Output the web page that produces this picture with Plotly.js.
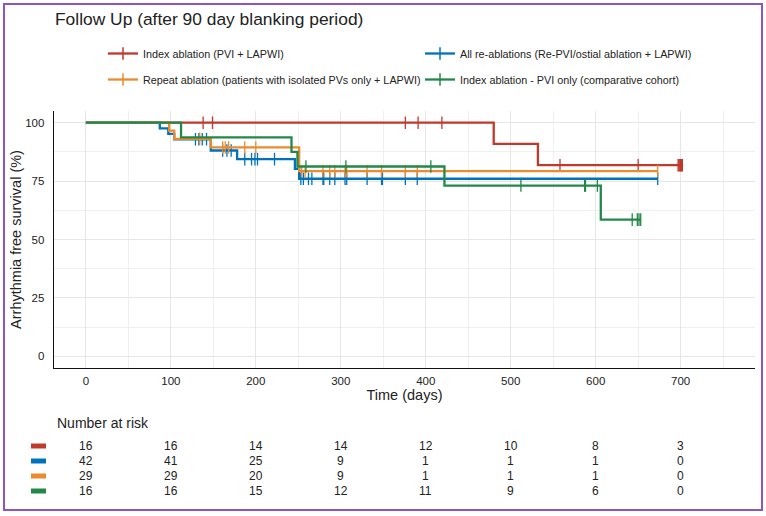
<!DOCTYPE html>
<html>
<head>
<meta charset="utf-8">
<script src="https://cdn.plot.ly/plotly-3.0.1.min.js"></script>
<style>
  html, body { margin: 0; padding: 0; background: #ffffff; }
  #chart { width: 766px; height: 516px; }
</style>
</head>
<body>
<div id="chart"></div>
<script>
// ---------- DATA ----------
const seriesNames = [
  "Index ablation (PVI + LAPWI)",
  "All re-ablations (Re-PVI/ostial ablation + LAPWI)",
  "Repeat ablation (patients with isolated PVs only + LAPWI)",
  "Index ablation - PVI only (comparative cohort)"
];

// Kaplan-Meier step points (time in days, survival in %)
const redTimes    = [0, 480, 532, 702];
const redSurv     = [100, 90.9, 81.8, 81.8];
const redCensor   = [138, 149, 376, 391, 419, 558, 650, 697, 698, 699, 700, 701, 702];

const blueTimes   = [0, 87, 97, 104, 147, 178, 246, 251, 673];
const blueSurv    = [100, 97.6, 95.2, 92.9, 88.1, 84.4, 80.2, 76.0, 76.0];
const blueCensor  = [129, 133, 137, 142, 161, 166, 171, 187, 195, 199, 202, 222,
                     253, 256, 262, 266, 279, 280, 287, 293, 305, 307, 331, 348, 349, 376, 390, 673];

const orangeTimes  = [0, 98, 104, 147, 251, 673];
const orangeSurv   = [100, 96.6, 93.1, 89.4, 79.3, 79.3];
const orangeCensor = [134, 161, 164, 168, 187, 200, 254, 258, 279, 287, 293, 305, 307, 331, 348, 376, 390, 673];

const greenTimes   = [0, 112, 242, 249, 422, 606, 653];
const greenSurv    = [100, 93.75, 87.5, 81.25, 73.1, 58.5, 58.5];
const greenCensor  = [259, 306, 406, 512, 587, 588, 602, 643, 649, 651, 653];

// Number at risk table
const riskTimes  = [0, 100, 200, 300, 400, 500, 600, 700];
const riskRed    = [16, 16, 14, 14, 12, 10, 8, 3];
const riskBlue   = [42, 41, 25, 9, 1, 1, 1, 0];
const riskOrange = [29, 29, 20, 9, 1, 1, 1, 0];
const riskGreen  = [16, 16, 15, 12, 11, 9, 6, 0];

const xTickVals = [0, 100, 200, 300, 400, 500, 600, 700];
const yTickVals = [0, 25, 50, 75, 100];

// ---------- STYLE ----------
const colors = { red: "#C0392B", blue: "#0072BD", orange: "#EC8A2E", green: "#22884A" };
const FONT = "'Liberation Sans', Arial, Helvetica, sans-serif";

// Plot area in pixels (for paper coordinates of outside elements)
const W = 766, H = 516;
const M = { l: 54, r: 11, t: 111, b: 148 };
const PW = W - M.l - M.r, PH = H - M.t - M.b;
const px = (x) => (x - M.l) / PW;
const py = (y) => (H - M.b - y) / PH;

// step-function lookup for censor marks
function stepValue(times, surv, t) {
  let v = surv[0];
  for (let i = 0; i < times.length; i++) { if (times[i] <= t) v = surv[i]; }
  return v;
}

const groups = [
  { name: seriesNames[0], times: redTimes, surv: redSurv, cens: redCensor, color: colors.red, legend: "legend", risk: riskRed },
  { name: seriesNames[1], times: blueTimes, surv: blueSurv, cens: blueCensor, color: colors.blue, legend: "legend2", risk: riskBlue },
  { name: seriesNames[2], times: orangeTimes, surv: orangeSurv, cens: orangeCensor, color: colors.orange, legend: "legend", risk: riskOrange },
  { name: seriesNames[3], times: greenTimes, surv: greenSurv, cens: greenCensor, color: colors.green, legend: "legend2", risk: riskGreen }
];

const traces = [];
groups.forEach((g, i) => {
  traces.push({
    type: "scatter", mode: "lines", x: g.times, y: g.surv,
    line: { shape: "hv", color: g.color, width: 2.3 },
    showlegend: false, hoverinfo: "skip"
  });
  traces.push({
    type: "scatter", mode: "markers", x: g.cens,
    y: g.cens.map(t => stepValue(g.times, g.surv, t)),
    marker: { symbol: "line-ns", size: 9, color: g.color, line: { color: g.color, width: 1.3 } },
    showlegend: false, hoverinfo: "skip"
  });
});
// legend entries (line with a + mark)
groups.forEach((g, i) => {
  traces.push({
    type: "scatter", mode: "lines+markers", x: [null], y: [null],
    name: g.name, legend: g.legend, legendgroup: "g" + i,
    line: { color: g.color, width: 2.3 },
    marker: { symbol: "line-ns", size: 9, color: g.color, line: { color: g.color, width: 1.5 } }
  });
});

// risk table annotations and swatches
const annotations = [];
const shapes = [];
const rowY = [446, 461, 476, 491];
groups.forEach((g, r) => {
  riskTimes.forEach((t, i) => {
    annotations.push({
      x: t, xref: "x", y: py(rowY[r]), yref: "paper",
      text: String(g.risk[i]), showarrow: false,
      xanchor: "center", yanchor: "middle",
      font: { family: FONT, size: 12, color: "#222" }
    });
  });
  shapes.push({
    type: "rect", xref: "paper", yref: "paper",
    x0: px(31), x1: px(46), y0: py(rowY[r] - 2.5), y1: py(rowY[r] + 2.5),
    fillcolor: g.color, line: { width: 0 }
  });
});
annotations.push({
  x: px(55), xref: "paper", y: py(423), yref: "paper",
  text: "Number at risk", showarrow: false, xanchor: "left", yanchor: "middle",
  font: { family: FONT, size: 14, color: "#222" }
});
// outer frame
shapes.push({
  type: "rect", xref: "paper", yref: "paper",
  x0: px(4), x1: px(762), y0: py(510), y1: py(4),
  line: { color: "#8A55C8", width: 2 }, fillcolor: "rgba(0,0,0,0)"
});

const layout = {
  width: W, height: H,
  margin: M,
  paper_bgcolor: "#ffffff", plot_bgcolor: "#ffffff",
  font: { family: FONT, size: 12, color: "#222" },
  title: {
    text: "Follow Up (after 90 day blanking period)",
    x: 55 / W, xanchor: "left", xref: "container",
    y: 1 - 19 / H, yanchor: "middle", yref: "container",
    font: { family: FONT, size: 17.4, color: "#222" }
  },
  xaxis: {
    range: [-37.5, 787.5], tickvals: xTickVals, ticks: "",
    showline: true, linecolor: "#111", linewidth: 1.3,
    showgrid: true, gridcolor: "#e6e6e6", gridwidth: 1,
    minor: { dtick: 50, tick0: 0, showgrid: true, gridcolor: "#f0f0f0", gridwidth: 1 },
    zeroline: false, ticklabelstandoff: 2,
    tickfont: { family: FONT, size: 11.5, color: "#222" },
    title: { text: "Time (days)", standoff: 1, font: { family: FONT, size: 14.5, color: "#222" } }
  },
  yaxis: {
    range: [-5, 105], tickvals: yTickVals, ticks: "",
    showline: true, linecolor: "#111", linewidth: 1.3,
    showgrid: true, gridcolor: "#e6e6e6", gridwidth: 1,
    minor: { dtick: 12.5, tick0: 0, showgrid: true, gridcolor: "#f0f0f0", gridwidth: 1 },
    zeroline: false, ticklabelstandoff: 6,
    tickfont: { family: FONT, size: 11.5, color: "#222" },
    title: { text: "Arrhythmia free survival (%)", standoff: 0, font: { family: FONT, size: 14.5, color: "#222" } }
  },
  legend: {
    x: px(103), xanchor: "left", y: py(39), yanchor: "top",
    orientation: "v", traceorder: "grouped", tracegroupgap: 7,
    bgcolor: "rgba(0,0,0,0)", font: { family: FONT, size: 10.8, color: "#222" }
  },
  legend2: {
    x: px(420), xanchor: "left", y: py(39), yanchor: "top",
    orientation: "v", traceorder: "grouped", tracegroupgap: 7,
    bgcolor: "rgba(0,0,0,0)", font: { family: FONT, size: 10.8, color: "#222" }
  },
  annotations: annotations,
  shapes: shapes
};

Plotly.newPlot("chart", traces, layout, { displayModeBar: false, staticPlot: true });
</script>
</body>
</html>
